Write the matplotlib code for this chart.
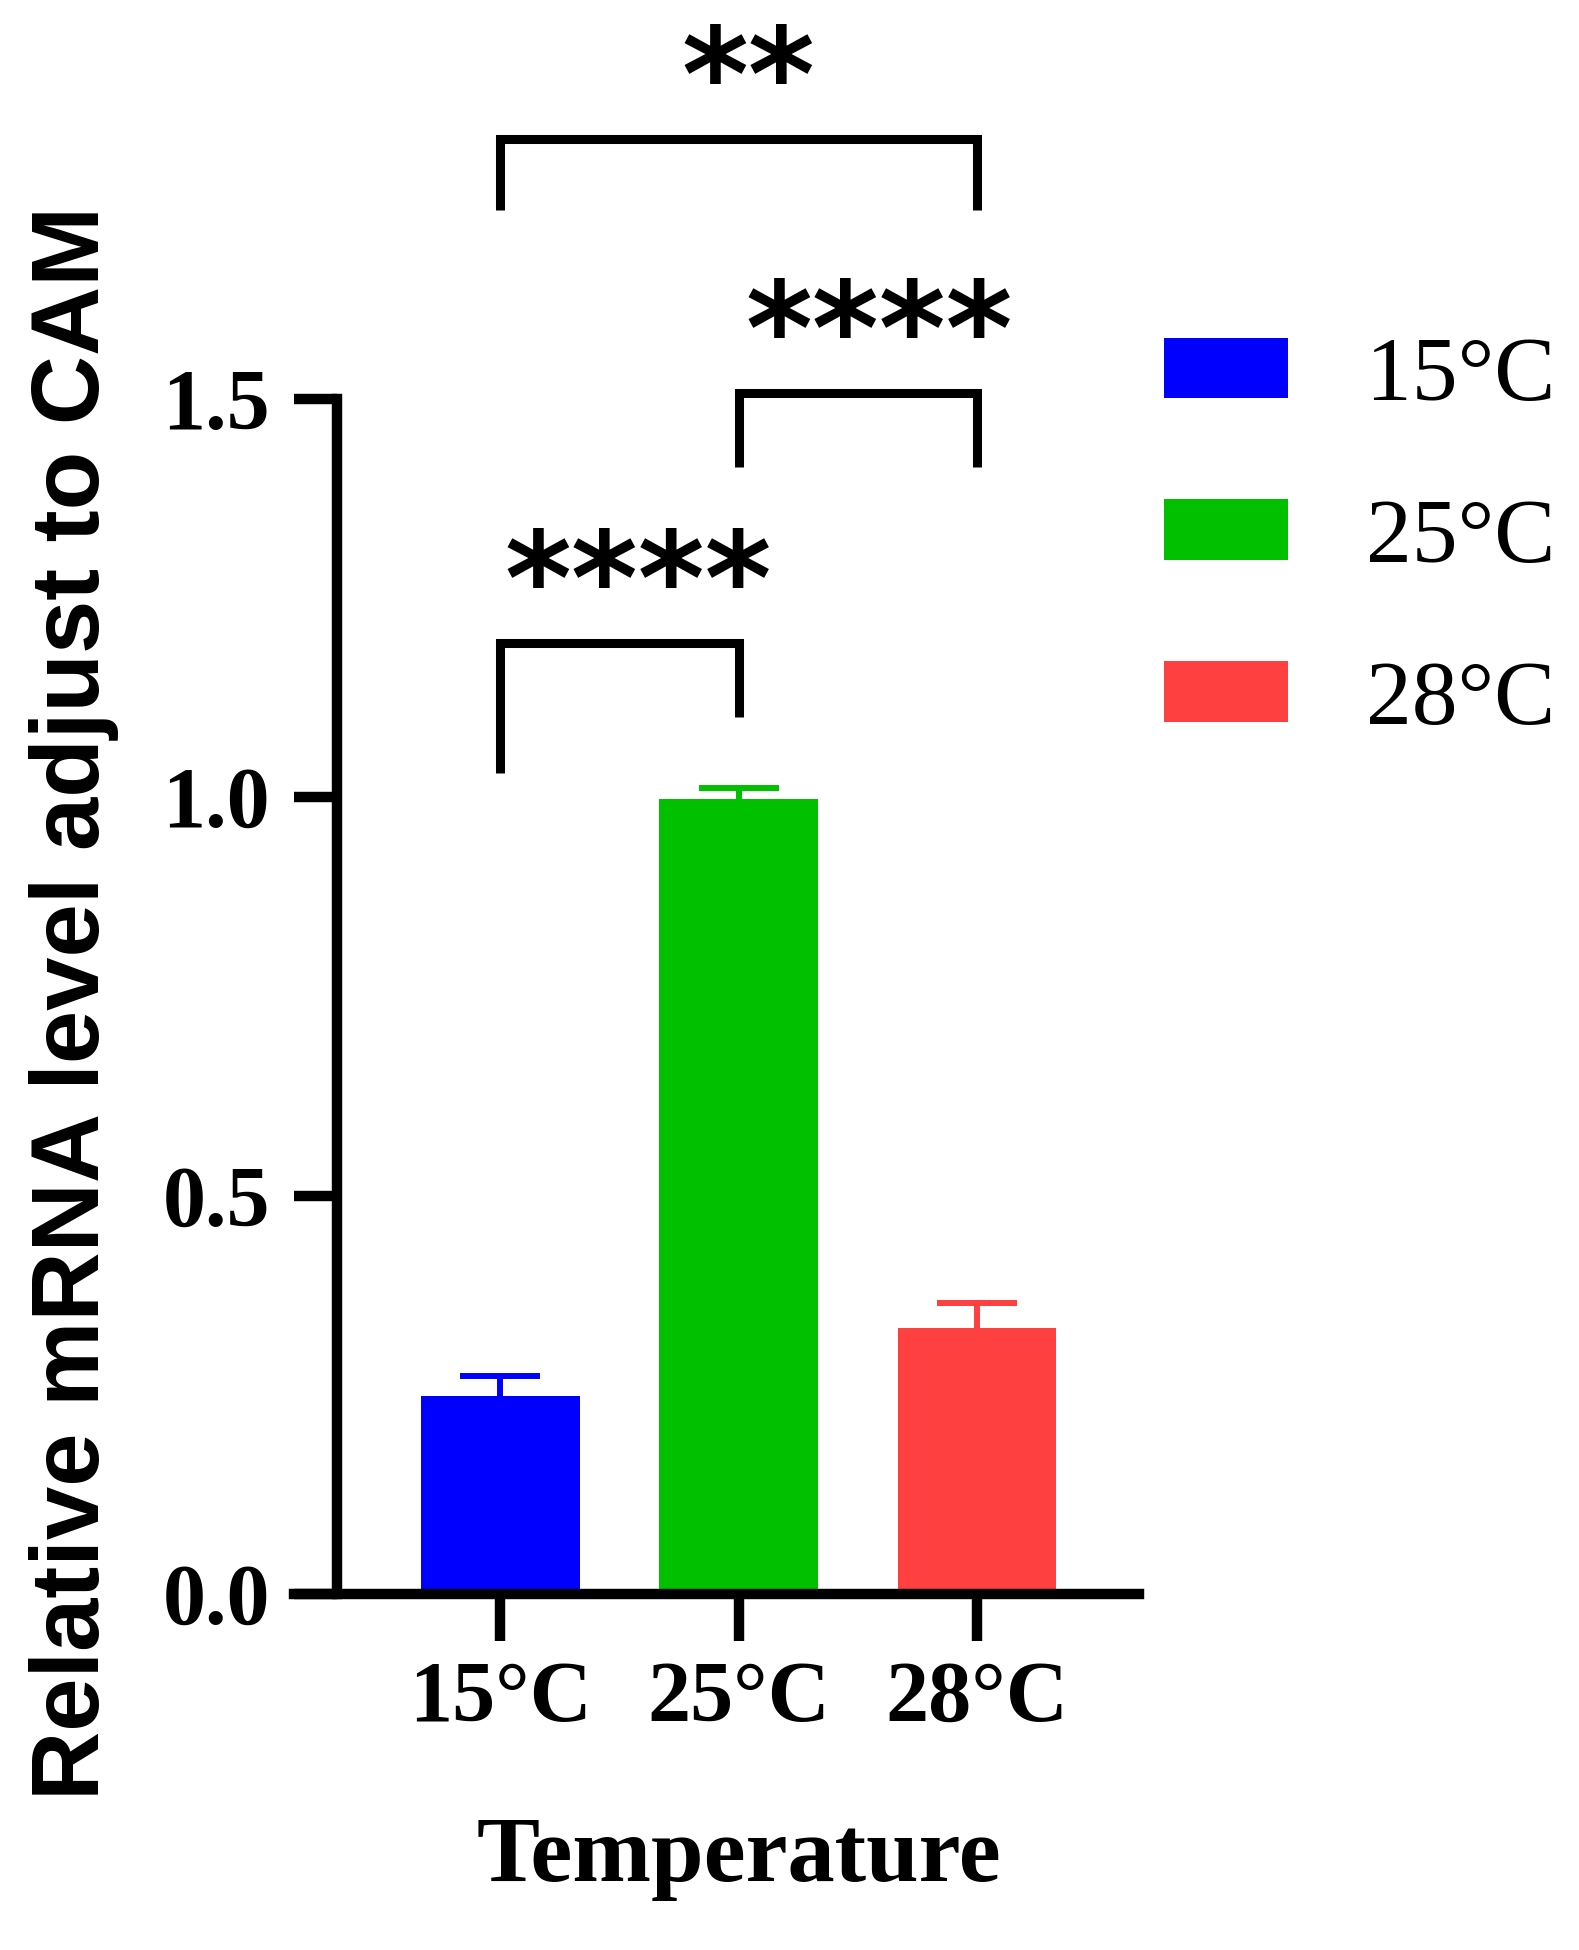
import matplotlib
matplotlib.use("Agg")
from matplotlib import pyplot as plt

temps = ["15°C", "25°C", "28°C"]
means = [0.249, 0.998, 0.334]
errs = [0.025, 0.013, 0.031]
colors = ["#0000FF", "#00C000", "#FF4040"]

# significance brackets: (left bar, right bar, top, left leg end, right leg end, stars)
pairs = [(0, 2, 1.826, 1.737, 1.737, "**"),
         (1, 2, 1.507, 1.415, 1.415, "****"),
         (0, 1, 1.193, 1.030, 1.100, "****")]
star_x = [1.04, 1.59, 0.58]

serif = "Liberation Serif"
sans = "Liberation Sans"

fig = plt.figure(figsize=(15.79, 19.5), dpi=100)
ax = fig.add_axes([0.1859, 0.1826, 0.7213 - 0.1859, 0.7955 - 0.1826])

x = list(range(len(temps)))
bars = ax.bar(x, means, width=0.665, color=colors, label=temps)
for i in x:
    line, caps, _ = ax.errorbar(x[i], means[i], yerr=[[0], [errs[i]]], fmt="none",
                                ecolor=colors[i], elinewidth=4.3, capsize=29,
                                capthick=4.3)
    caps[0].set_visible(False)

ax.set_xlim(-0.868, 2.681)
ax.set_ylim(0, 1.5)
ax.spines["left"].set_position(("data", -0.686))
ax.spines["right"].set_visible(False)
ax.spines["top"].set_visible(False)
ax.spines["left"].set_linewidth(7.5)
ax.spines["bottom"].set_linewidth(7.5)
ax.spines["bottom"].set_capstyle("projecting")
ax.spines["left"].set_capstyle("projecting")

ax.set_yticks([0, 0.5, 1.0, 1.5])
ax.set_yticklabels(["0.0", "0.5", "1.0", "1.5"])
ax.set_xticks(x)
ax.set_xticklabels(temps)
ax.tick_params(axis="y", length=31, width=7.5, pad=17)
ax.tick_params(axis="x", length=34, width=7.5, pad=14)
for lab in ax.get_xticklabels() + ax.get_yticklabels():
    lab.set_fontfamily(serif)
    lab.set_fontweight("bold")
    lab.set_fontsize(62)

ax.set_xlabel("Temperature", fontfamily=serif, fontweight="bold", fontsize=68)
ax.xaxis.label.set_va("center")
ax.xaxis.set_label_coords(0.527, -0.221)
ax.set_ylabel("Relative mRNA level adjust to CAM", fontfamily=sans,
              fontweight="bold", fontsize=69)
ax.yaxis.label.set_va("center")
ax.yaxis.set_label_coords(-0.2596, 0.4946)

for k, (a, b, top, la, lb, stars) in enumerate(pairs):
    ax.plot([a, a, b, b], [la, top, top, lb], color="black", lw=6.5,
            clip_on=False, solid_joinstyle="miter", solid_capstyle="butt")
    ax.text(star_x[k], top + 0.024, stars, ha="center", va="baseline",
            fontsize=92, fontweight="bold", fontfamily="DejaVu Sans")

ax.legend(handles=list(bars), labels=temps, loc="upper left",
          bbox_to_anchor=(1.03, 1.052), frameon=False,
          prop={"family": serif, "size": 66},
          handlelength=1.35, handleheight=0.64, handletextpad=0.85,
          labelspacing=0.865, borderpad=0, borderaxespad=0)

fig.savefig("out.png", dpi=100)
